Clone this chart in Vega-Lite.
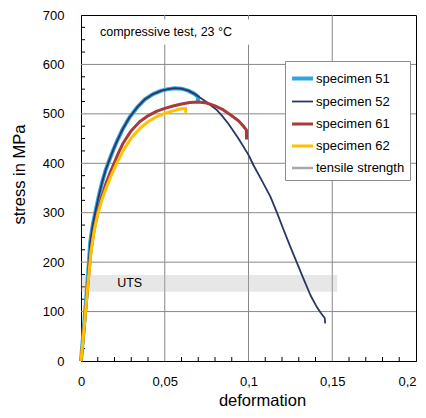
{
  "$schema": "https://vega.github.io/schema/vega-lite/v6.json",
  "width": 335,
  "height": 346,
  "autosize": {"type": "none"},
  "padding": {"left": 81, "top": 15, "right": 10, "bottom": 57},
  "background": "white",
  "config": {
    "font": "Liberation Sans",
    "view": {"stroke": "black", "strokeWidth": 1},
    "axis": {
      "domainColor": "black",
      "tickColor": "black",
      "labelColor": "black",
      "labelFontSize": 13,
      "titleFontSize": 16.5,
      "titleFontWeight": "normal",
      "titleColor": "black",
      "labelOverlap": false,
      "labelFlush": false
    },
    "legend": {
      "orient": "none",
      "legendX": 204,
      "legendY": 46,
      "strokeColor": "#8c8c8c",
      "fillColor": "white",
      "padding": 5,
      "rowPadding": 3,
      "labelOffset": 1,
      "symbolSize": 441,
      "symbolType": "stroke",
      "symbolOpacity": 1,
      "labelFontSize": 13,
      "labelColor": "black",
      "labelLimit": 200,
      "title": null
    }
  },
  "resolve": {"axis": {"x": "independent", "y": "independent"}},
  "datasets": {
    "curves": [
      {"series": "specimen 51", "d": 0, "s": 0},
      {"series": "specimen 51", "d": 0.002, "s": 80},
      {"series": "specimen 51", "d": 0.004, "s": 165},
      {"series": "specimen 51", "d": 0.0055, "s": 240},
      {"series": "specimen 51", "d": 0.007, "s": 275},
      {"series": "specimen 51", "d": 0.0085, "s": 300},
      {"series": "specimen 51", "d": 0.0105, "s": 332},
      {"series": "specimen 51", "d": 0.0125, "s": 360},
      {"series": "specimen 51", "d": 0.0145, "s": 384},
      {"series": "specimen 51", "d": 0.0165, "s": 403},
      {"series": "specimen 51", "d": 0.019, "s": 425},
      {"series": "specimen 51", "d": 0.0215, "s": 445},
      {"series": "specimen 51", "d": 0.025, "s": 470},
      {"series": "specimen 51", "d": 0.029, "s": 493},
      {"series": "specimen 51", "d": 0.0335, "s": 513},
      {"series": "specimen 51", "d": 0.038, "s": 529},
      {"series": "specimen 51", "d": 0.043, "s": 540},
      {"series": "specimen 51", "d": 0.048, "s": 547},
      {"series": "specimen 51", "d": 0.052, "s": 550},
      {"series": "specimen 51", "d": 0.056, "s": 552},
      {"series": "specimen 51", "d": 0.06, "s": 551},
      {"series": "specimen 51", "d": 0.064, "s": 547},
      {"series": "specimen 51", "d": 0.0675, "s": 541},
      {"series": "specimen 51", "d": 0.0698, "s": 535},
      {"series": "specimen 51", "d": 0.0698, "s": 526},
      {"series": "specimen 52", "d": 0, "s": 0},
      {"series": "specimen 52", "d": 0.002, "s": 80},
      {"series": "specimen 52", "d": 0.004, "s": 165},
      {"series": "specimen 52", "d": 0.0055, "s": 240},
      {"series": "specimen 52", "d": 0.007, "s": 275},
      {"series": "specimen 52", "d": 0.0085, "s": 300},
      {"series": "specimen 52", "d": 0.0105, "s": 332},
      {"series": "specimen 52", "d": 0.0125, "s": 360},
      {"series": "specimen 52", "d": 0.0145, "s": 384},
      {"series": "specimen 52", "d": 0.0165, "s": 403},
      {"series": "specimen 52", "d": 0.019, "s": 425},
      {"series": "specimen 52", "d": 0.0215, "s": 445},
      {"series": "specimen 52", "d": 0.025, "s": 470},
      {"series": "specimen 52", "d": 0.029, "s": 493},
      {"series": "specimen 52", "d": 0.0335, "s": 513},
      {"series": "specimen 52", "d": 0.038, "s": 529},
      {"series": "specimen 52", "d": 0.043, "s": 540},
      {"series": "specimen 52", "d": 0.048, "s": 547},
      {"series": "specimen 52", "d": 0.052, "s": 550},
      {"series": "specimen 52", "d": 0.056, "s": 552},
      {"series": "specimen 52", "d": 0.06, "s": 551},
      {"series": "specimen 52", "d": 0.064, "s": 547},
      {"series": "specimen 52", "d": 0.0675, "s": 541},
      {"series": "specimen 52", "d": 0.071, "s": 533},
      {"series": "specimen 52", "d": 0.0745, "s": 525},
      {"series": "specimen 52", "d": 0.078, "s": 516},
      {"series": "specimen 52", "d": 0.081, "s": 508},
      {"series": "specimen 52", "d": 0.084, "s": 497},
      {"series": "specimen 52", "d": 0.088, "s": 480},
      {"series": "specimen 52", "d": 0.094, "s": 450},
      {"series": "specimen 52", "d": 0.1, "s": 417},
      {"series": "specimen 52", "d": 0.103, "s": 396},
      {"series": "specimen 52", "d": 0.108, "s": 365},
      {"series": "specimen 52", "d": 0.113, "s": 333},
      {"series": "specimen 52", "d": 0.117, "s": 300},
      {"series": "specimen 52", "d": 0.121, "s": 265},
      {"series": "specimen 52", "d": 0.125, "s": 231},
      {"series": "specimen 52", "d": 0.129, "s": 198},
      {"series": "specimen 52", "d": 0.133, "s": 165},
      {"series": "specimen 52", "d": 0.137, "s": 133},
      {"series": "specimen 52", "d": 0.1405, "s": 111},
      {"series": "specimen 52", "d": 0.143, "s": 98},
      {"series": "specimen 52", "d": 0.1455, "s": 87},
      {"series": "specimen 52", "d": 0.1458, "s": 76},
      {"series": "specimen 61", "d": 0, "s": 0},
      {"series": "specimen 61", "d": 0.002, "s": 72},
      {"series": "specimen 61", "d": 0.004, "s": 150},
      {"series": "specimen 61", "d": 0.006, "s": 225},
      {"series": "specimen 61", "d": 0.008, "s": 268},
      {"series": "specimen 61", "d": 0.01, "s": 300},
      {"series": "specimen 61", "d": 0.0125, "s": 333},
      {"series": "specimen 61", "d": 0.015, "s": 360},
      {"series": "specimen 61", "d": 0.0175, "s": 382},
      {"series": "specimen 61", "d": 0.02, "s": 402},
      {"series": "specimen 61", "d": 0.0225, "s": 422},
      {"series": "specimen 61", "d": 0.025, "s": 440},
      {"series": "specimen 61", "d": 0.03, "s": 466},
      {"series": "specimen 61", "d": 0.035, "s": 484},
      {"series": "specimen 61", "d": 0.04, "s": 496},
      {"series": "specimen 61", "d": 0.045, "s": 505},
      {"series": "specimen 61", "d": 0.05, "s": 511},
      {"series": "specimen 61", "d": 0.055, "s": 516},
      {"series": "specimen 61", "d": 0.06, "s": 520},
      {"series": "specimen 61", "d": 0.065, "s": 523},
      {"series": "specimen 61", "d": 0.07, "s": 524},
      {"series": "specimen 61", "d": 0.075, "s": 522},
      {"series": "specimen 61", "d": 0.08, "s": 516},
      {"series": "specimen 61", "d": 0.085, "s": 508},
      {"series": "specimen 61", "d": 0.09, "s": 496},
      {"series": "specimen 61", "d": 0.094, "s": 486},
      {"series": "specimen 61", "d": 0.0965, "s": 477},
      {"series": "specimen 61", "d": 0.0988, "s": 467},
      {"series": "specimen 61", "d": 0.0988, "s": 448},
      {"series": "specimen 62", "d": 0, "s": 0},
      {"series": "specimen 62", "d": 0.002, "s": 72},
      {"series": "specimen 62", "d": 0.004, "s": 150},
      {"series": "specimen 62", "d": 0.006, "s": 222},
      {"series": "specimen 62", "d": 0.0078, "s": 262},
      {"series": "specimen 62", "d": 0.01, "s": 297},
      {"series": "specimen 62", "d": 0.0125, "s": 326},
      {"series": "specimen 62", "d": 0.015, "s": 350},
      {"series": "specimen 62", "d": 0.0175, "s": 371},
      {"series": "specimen 62", "d": 0.02, "s": 390},
      {"series": "specimen 62", "d": 0.0225, "s": 408},
      {"series": "specimen 62", "d": 0.025, "s": 425},
      {"series": "specimen 62", "d": 0.03, "s": 451},
      {"series": "specimen 62", "d": 0.035, "s": 470},
      {"series": "specimen 62", "d": 0.04, "s": 484},
      {"series": "specimen 62", "d": 0.045, "s": 494},
      {"series": "specimen 62", "d": 0.05, "s": 501},
      {"series": "specimen 62", "d": 0.055, "s": 506},
      {"series": "specimen 62", "d": 0.0595, "s": 510},
      {"series": "specimen 62", "d": 0.0625, "s": 511},
      {"series": "specimen 62", "d": 0.0625, "s": 502}
    ],
    "gridlines": [
      {"d": 0.05, "d2": 0.05, "s": 0, "s2": 640},
      {"d": 0.05, "d2": 0.05, "s": 691, "s2": 700},
      {"d": 0.1, "d2": 0.1, "s": 0, "s2": 640},
      {"d": 0.1, "d2": 0.1, "s": 691, "s2": 700},
      {"d": 0.15, "d2": 0.15, "s": 0, "s2": 700},
      {"d": 0, "d2": 0.2, "s": 100, "s2": 100},
      {"d": 0, "d2": 0.2, "s": 200, "s2": 200},
      {"d": 0, "d2": 0.2, "s": 300, "s2": 300},
      {"d": 0, "d2": 0.2, "s": 400, "s2": 400},
      {"d": 0, "d2": 0.2, "s": 500, "s2": 500},
      {"d": 0, "d2": 0.2, "s": 600, "s2": 600}
    ],
    "minorticks": [
      {"d": 0.01, "d2": 0.01, "s": 0, "s2": 8},
      {"d": 0.02, "d2": 0.02, "s": 0, "s2": 8},
      {"d": 0.03, "d2": 0.03, "s": 0, "s2": 8},
      {"d": 0.04, "d2": 0.04, "s": 0, "s2": 8},
      {"d": 0.06, "d2": 0.06, "s": 0, "s2": 8},
      {"d": 0.07, "d2": 0.07, "s": 0, "s2": 8},
      {"d": 0.08, "d2": 0.08, "s": 0, "s2": 8},
      {"d": 0.09, "d2": 0.09, "s": 0, "s2": 8},
      {"d": 0.11, "d2": 0.11, "s": 0, "s2": 8},
      {"d": 0.12, "d2": 0.12, "s": 0, "s2": 8},
      {"d": 0.13, "d2": 0.13, "s": 0, "s2": 8},
      {"d": 0.14, "d2": 0.14, "s": 0, "s2": 8},
      {"d": 0.16, "d2": 0.16, "s": 0, "s2": 8},
      {"d": 0.17, "d2": 0.17, "s": 0, "s2": 8},
      {"d": 0.18, "d2": 0.18, "s": 0, "s2": 8},
      {"d": 0.19, "d2": 0.19, "s": 0, "s2": 8},
      {"d": 0, "d2": 0.0024, "s": 25, "s2": 25},
      {"d": 0, "d2": 0.0024, "s": 50, "s2": 50},
      {"d": 0, "d2": 0.0024, "s": 75, "s2": 75},
      {"d": 0, "d2": 0.0024, "s": 125, "s2": 125},
      {"d": 0, "d2": 0.0024, "s": 150, "s2": 150},
      {"d": 0, "d2": 0.0024, "s": 175, "s2": 175},
      {"d": 0, "d2": 0.0024, "s": 225, "s2": 225},
      {"d": 0, "d2": 0.0024, "s": 250, "s2": 250},
      {"d": 0, "d2": 0.0024, "s": 275, "s2": 275},
      {"d": 0, "d2": 0.0024, "s": 325, "s2": 325},
      {"d": 0, "d2": 0.0024, "s": 350, "s2": 350},
      {"d": 0, "d2": 0.0024, "s": 375, "s2": 375},
      {"d": 0, "d2": 0.0024, "s": 425, "s2": 425},
      {"d": 0, "d2": 0.0024, "s": 450, "s2": 450},
      {"d": 0, "d2": 0.0024, "s": 475, "s2": 475},
      {"d": 0, "d2": 0.0024, "s": 525, "s2": 525},
      {"d": 0, "d2": 0.0024, "s": 550, "s2": 550},
      {"d": 0, "d2": 0.0024, "s": 575, "s2": 575},
      {"d": 0, "d2": 0.0024, "s": 625, "s2": 625},
      {"d": 0, "d2": 0.0024, "s": 650, "s2": 650},
      {"d": 0, "d2": 0.0024, "s": 675, "s2": 675}
    ],
    "bands": [
      {"name": "tensile strength", "d": 0, "d2": 0.153, "s": 140, "s2": 174}
    ],
    "labels": [
      {"label": "compressive test, 23 °C", "d": 0.0113, "s": 666},
      {"label": "UTS", "d": 0.0216, "s": 157}
    ]
  },
  "layer": [
    {
      "data": {"name": "gridlines"},
      "mark": {"type": "rule", "color": "#888888", "strokeWidth": 1},
      "encoding": {
        "x": {"field": "d", "type": "quantitative", "axis": null},
        "x2": {"field": "d2"},
        "y": {"field": "s", "type": "quantitative", "axis": null},
        "y2": {"field": "s2"}
      }
    },
    {
      "data": {"name": "minorticks"},
      "mark": {"type": "rule", "color": "black", "strokeWidth": 1},
      "encoding": {
        "x": {"field": "d", "type": "quantitative", "axis": null},
        "x2": {"field": "d2"},
        "y": {"field": "s", "type": "quantitative", "axis": null},
        "y2": {"field": "s2"}
      }
    },
    {
      "data": {"name": "bands"},
      "mark": {"type": "rect", "fill": "#b0b0b0", "opacity": 0.3},
      "encoding": {
        "x": {"field": "d", "type": "quantitative", "axis": null},
        "x2": {"field": "d2"},
        "y": {"field": "s", "type": "quantitative", "axis": null},
        "y2": {"field": "s2"}
      }
    },
    {
      "data": {"name": "labels"},
      "mark": {"type": "text", "align": "left", "baseline": "middle", "fontSize": 12.5, "color": "black"},
      "encoding": {
        "x": {"field": "d", "type": "quantitative", "axis": null},
        "y": {"field": "s", "type": "quantitative", "axis": null},
        "text": {"field": "label"}
      }
    },
    {
      "data": {"name": "curves"},
      "mark": {"type": "line", "strokeCap": "butt", "strokeJoin": "round"},
      "encoding": {
        "x": {"field": "d", "type": "quantitative", "scale": {"domain": [0, 0.2], "nice": false, "zero": false},
          "title": "deformation",
          "axis": {
            "orient": "bottom",
            "values": [0, 0.05, 0.1, 0.15, 0.2],
            "format": ".2~f",
            "labelExpr": "replace(datum.label, '.', ',')",
            "labelAlign": {"condition": {"test": "datum.value > 0.19", "value": "right"}, "value": "center"},
            "ticks": false,
            "labelPadding": 14,
            "grid": false,
            "titleX": 181,
            "titleY": 39,
            "titleBaseline": "middle"
          }
        },
        "y": {"field": "s", "type": "quantitative", "scale": {"domain": [0, 700], "nice": false},
          "title": "stress in MPa",
          "axis": {
            "orient": "left",
            "values": [0, 100, 200, 300, 400, 500, 600, 700],
            "ticks": false,
            "labelPadding": 17,
            "grid": false,
            "titleX": -62,
            "titleY": 159,
            "titleBaseline": "middle",
            "titleAlign": "center"
          }
        },
        "order": {"value": null},
        "color": {
          "field": "series", "type": "nominal",
          "scale": {
            "domain": ["specimen 51", "specimen 52", "specimen 61", "specimen 62", "tensile strength"],
            "range": ["#2ea6e0", "#2b3566", "#a83a3a", "#ffc000", "#a8a8a8"]
          },
          "legend": {"title": null}
        },
        "strokeWidth": {
          "field": "series", "type": "nominal",
          "scale": {
            "type": "ordinal",
            "domain": ["specimen 51", "specimen 52", "specimen 61", "specimen 62", "tensile strength"],
            "range": [4, 1.8, 3, 3, 2.5]
          },
          "legend": {"title": null}
        }
      }
    }
  ]
}
